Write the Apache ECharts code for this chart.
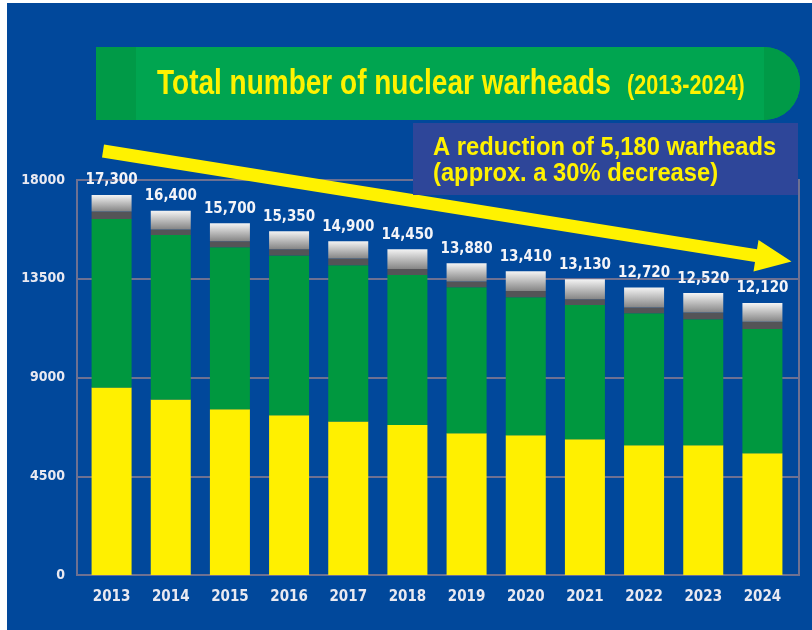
<!DOCTYPE html>
<html>
<head>
<meta charset="utf-8">
<script src="https://cdn.jsdelivr.net/npm/echarts@6.0.0/dist/echarts.min.js"></script>
<style>
	body { margin: 0; background: #ffffff; }
	#bg { position: absolute; left: 7px; top: 3px; width: 805px; height: 627px; background: #01489b; }
	#chart { position: absolute; left: 0; top: 0; width: 812px; height: 630px; }
</style>
</head>
<body>
<div id="bg"></div>
<div id="chart"></div>

<script type="text/javascript">
	// data
	var years = ['2013', '2014', '2015', '2016', '2017', '2018', '2019', '2020', '2021', '2022', '2023', '2024'];
	var totalLabels = ['17,300', '16,400', '15,700', '15,350', '14,900', '14,450', '13,880', '13,410', '13,130', '12,720', '12,520', '12,120'];
	var yellowPart = [8550, 8000, 7550, 7280, 7000, 6830, 6460, 6370, 6190, 5910, 5910, 5550];
	var greenPart = [7670, 7490, 7390, 7280, 7120, 6840, 6650, 6290, 6110, 6020, 5750, 5660];
	var darkGrayPart = [350, 260, 270, 290, 300, 270, 265, 280, 265, 255, 300, 330];
	var lightGrayPart = [750, 850, 820, 820, 790, 910, 830, 900, 910, 920, 885, 850];
	var yTicks = [0, 4500, 9000, 13500, 18000];

	var lineColor = '#6e7192';
	var labelColor = '#e9e9f1';
	var condensed = '"DejaVu Sans Condensed", "DejaVu Sans"';

	var option = {
		animation: false,
		grid: [
			// frame with the gridlines
			{ left: 77, right: 13, top: 180, bottom: 55, show: true, borderColor: lineColor, borderWidth: 2 },
			// bars
			{ left: 82, right: 20, top: 180, bottom: 55 }
		],
		xAxis: [
			{ type: 'category', gridIndex: 0, data: years, show: false },
			{
				type: 'category', gridIndex: 1, data: years,
				axisLine: { show: false }, axisTick: { show: false },
				axisLabel: { color: labelColor, fontFamily: condensed, fontWeight: 'bold', fontSize: 15, margin: 15 }
			}
		],
		yAxis: [
			{
				type: 'value', gridIndex: 0, min: yTicks[0], max: yTicks[yTicks.length - 1], interval: yTicks[1] - yTicks[0],
				axisLine: { show: false }, axisTick: { show: false },
				splitLine: { lineStyle: { color: lineColor, width: 2 } },
				axisLabel: {
					color: labelColor, fontFamily: condensed, fontWeight: 'bold', fontSize: 14, margin: 12,
					formatter: function (v) { return String(v); }
				}
			},
			{ type: 'value', gridIndex: 1, min: 0, max: 18000, show: false, splitLine: { show: false } }
		],
		series: [
			{
				name: 'yellow', type: 'bar', stack: 'total', xAxisIndex: 1, yAxisIndex: 1,
				barWidth: 40, data: yellowPart, itemStyle: { color: '#fff000' }
			},
			{
				name: 'green', type: 'bar', stack: 'total', xAxisIndex: 1, yAxisIndex: 1,
				barWidth: 40, data: greenPart, itemStyle: { color: '#00983f' }
			},
			{
				name: 'dark gray', type: 'bar', stack: 'total', xAxisIndex: 1, yAxisIndex: 1,
				barWidth: 40, data: darkGrayPart, itemStyle: { color: '#545457' }
			},
			{
				name: 'light gray', type: 'bar', stack: 'total', xAxisIndex: 1, yAxisIndex: 1,
				barWidth: 40, data: lightGrayPart,
				itemStyle: {
					color: new echarts.graphic.LinearGradient(0, 0, 0, 1, [
						{ offset: 0, color: '#f4f4f4' },
						{ offset: 0.45, color: '#c2c2c2' },
						{ offset: 1, color: '#858585' }
					])
				},
				label: {
					show: true, position: 'top', distance: 7,
					color: '#f4f4f8', fontFamily: condensed, fontWeight: 'bold', fontSize: 15,
					formatter: function (p) { return totalLabels[p.dataIndex]; }
				}
			}
		],
		graphic: [
			// title banner
			{ type: 'rect', shape: { x: 96, y: 47, width: 704, height: 73, r: [0, 36, 36, 0] }, style: { fill: '#00a550' }, z: 10 },
			{ type: 'rect', shape: { x: 96, y: 47, width: 40, height: 73 }, style: { fill: '#009a47' }, z: 11 },
			{ type: 'rect', shape: { x: 764, y: 47, width: 36, height: 73, r: [0, 36, 36, 0] }, style: { fill: '#009a47' }, z: 11 },
			{
				type: 'text', x: 157, y: 84, scaleX: 0.8, z: 12,
				style: { text: 'Total number of nuclear warheads', fill: '#fff200', font: 'bold 35px "Liberation Sans"', verticalAlign: 'middle' }
			},
			{
				type: 'text', x: 627, y: 87, scaleX: 0.8, z: 12,
				style: { text: '(2013-2024)', fill: '#fff200', font: 'bold 27px "Liberation Sans"', verticalAlign: 'middle' }
			},
			// arrow
			{
				type: 'polygon', z: 5,
				shape: { points: [[104, 144.6], [757, 249.3], [758.5, 239.9], [791.5, 261.4], [753.5, 271.5], [755, 262.1], [102, 157.4]] },
				style: { fill: '#fff200' }
			},
			// note box
			{ type: 'rect', shape: { x: 413, y: 123, width: 385, height: 72 }, style: { fill: '#2e4699' }, z: 10 },
			{
				type: 'text', x: 433, y: 148, scaleX: 0.95, z: 12,
				style: { text: 'A reduction of 5,180 warheads', fill: '#fff200', font: 'bold 25px "Liberation Sans"', verticalAlign: 'middle' }
			},
			{
				type: 'text', x: 433, y: 174, scaleX: 0.95, z: 12,
				style: { text: '(approx. a 30% decrease)', fill: '#fff200', font: 'bold 25px "Liberation Sans"', verticalAlign: 'middle' }
			}
		]
	};

	var myChart = echarts.init(document.getElementById('chart'));
	myChart.setOption(option);
</script>
</body>
</html>
